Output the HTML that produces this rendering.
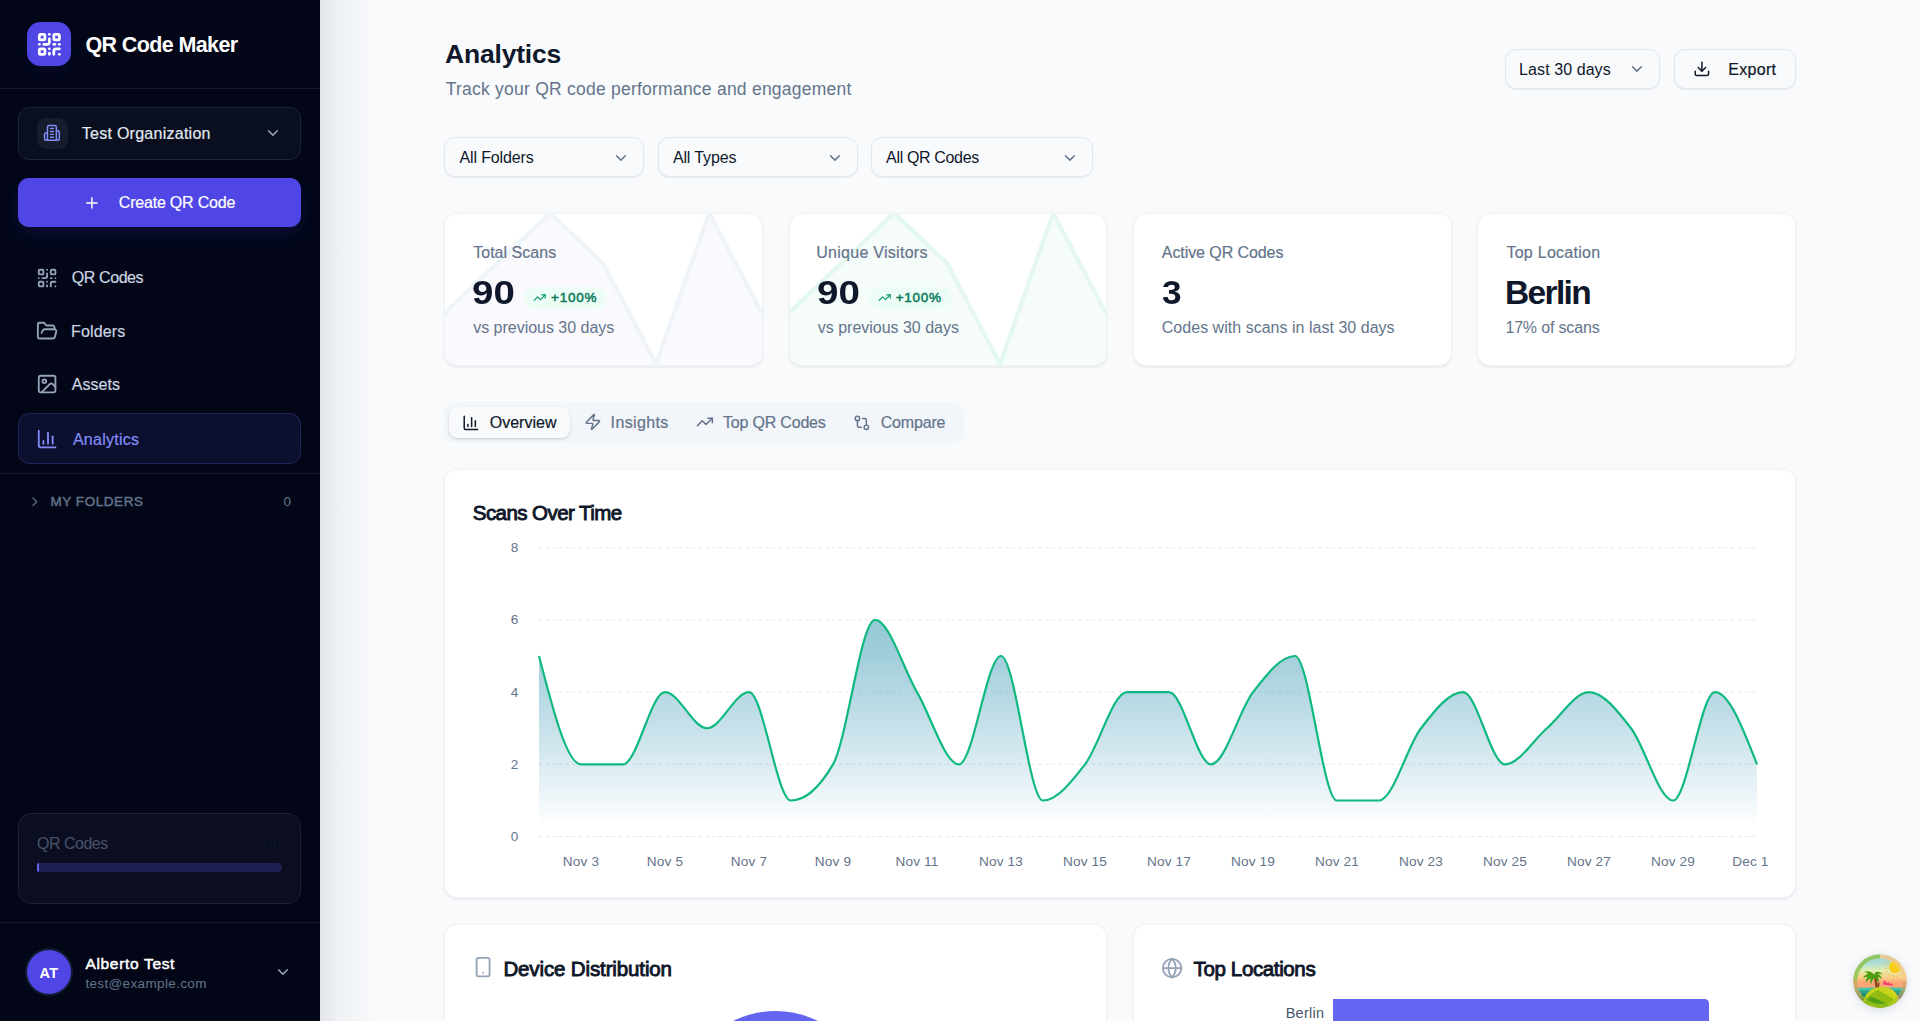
<!DOCTYPE html>
<html lang="en">
<head>
<meta charset="utf-8">
<title>Analytics - QR Code Maker</title>
<style>
*{box-sizing:border-box;margin:0;padding:0}
html,body{width:1920px;height:1021px;overflow:hidden}
body{font-family:"Liberation Sans",Arial,sans-serif;background:#f8fafc;color:#0f172a;position:relative;-webkit-font-smoothing:antialiased}
.abs{position:absolute}
.t{position:absolute;white-space:nowrap;line-height:1}
svg.ic{position:absolute;fill:none;stroke:currentColor;stroke-width:2;stroke-linecap:round;stroke-linejoin:round}
/* sidebar */
#sb{position:absolute;left:0;top:0;width:320px;height:1021px;background:#020617}
#sbshadow{position:absolute;left:320px;top:0;width:62px;height:1021px;background:linear-gradient(90deg,rgba(15,23,42,.085) 0,rgba(15,23,42,.066) 14%,rgba(15,23,42,.04) 30%,rgba(15,23,42,.026) 48%,rgba(15,23,42,.015) 66%,rgba(15,23,42,.007) 85%,rgba(15,23,42,0) 100%)}
.hr{position:absolute;left:0;width:320px;height:1px;background:#141b2d}
/* main */
.card{position:absolute;background:#fff;border:1.3px solid #f2f5f8;border-radius:13.3px;box-shadow:0 0 0 1px rgba(226,232,240,.18),0 1.2px 2px rgba(15,23,42,.055)}
.sel{position:absolute;background:#f8fafc;border:1px solid #e2e8f0;border-radius:11.1px;box-shadow:0 1px 2px rgba(15,23,42,.06)}
</style>
</head>
<body>
<!-- SIDEBAR -->
<div id="sb">
  <div class="abs" id="logo" style="left:27px;top:22px;width:44.4px;height:44.4px;border-radius:13.3px;background:#4f46e5;box-shadow:0 8px 14px rgba(79,70,229,.07)"></div>
  <svg class="ic" viewBox="0 0 24 24" style="left:35.6px;top:30.5px;width:26.7px;height:26.7px;color:#fff;stroke-width:2.5"><rect width="5" height="5" x="3" y="3" rx="1"/><rect width="5" height="5" x="16" y="3" rx="1"/><rect width="5" height="5" x="3" y="16" rx="1"/><path d="M21 16h-3a2 2 0 0 0-2 2v3"/><path d="M21 21v.01"/><path d="M12 7v3a2 2 0 0 1-2 2H7"/><path d="M3 12h.01"/><path d="M12 3h.01"/><path d="M12 16v.01"/><path d="M16 12h1"/><path d="M21 12v.01"/><path d="M12 21v-1"/></svg>
  <div class="t" id="brand" style="left:85.40px;top:35.00px;font-size:21.5px;font-weight:700;color:#fff;letter-spacing:-0.611px">QR Code Maker</div>
  <div class="hr" style="top:88px"></div>

  <div class="abs" id="org" style="left:18px;top:107px;width:283px;height:53px;border-radius:11.1px;background:#0a0f1f;border:1px solid #1c2435"></div>
  <div class="abs" id="orgic" style="left:36.7px;top:117.6px;width:31.1px;height:31.1px;border-radius:8.9px;background:#161c2c"></div>
  <svg class="ic" viewBox="0 0 24 24" style="left:43.4px;top:124.3px;width:17.8px;height:17.8px;color:#818cf8"><path d="M6 22V4a2 2 0 0 1 2-2h8a2 2 0 0 1 2 2v18Z"/><path d="M6 12H4a2 2 0 0 0-2 2v6a2 2 0 0 0 2 2h2"/><path d="M18 9h2a2 2 0 0 1 2 2v9a2 2 0 0 1-2 2h-2"/><path d="M10 6h4"/><path d="M10 10h4"/><path d="M10 14h4"/><path d="M10 18h4"/></svg>
  <div class="t" id="orgname" style="left:81.80px;top:126.21px;font-size:16px;color:#e2e8f0;-webkit-text-stroke:.2px currentColor;letter-spacing:0.262px">Test Organization</div>
  <svg class="ic" viewBox="0 0 24 24" style="left:264.3px;top:124.4px;width:17.8px;height:17.8px;color:#94a3b8"><path d="m6 9 6 6 6-6"/></svg>

  <div class="abs" id="create" style="left:18px;top:178px;width:283px;height:48.9px;border-radius:11.1px;background:#4f46e5;box-shadow:0 8px 18px rgba(79,70,229,.14)"></div>
  <svg class="ic" viewBox="0 0 24 24" style="left:82.8px;top:193.8px;width:17.8px;height:17.8px;color:#fff"><path d="M5 12h14"/><path d="M12 5v14"/></svg>
  <div class="t" id="createtx" style="left:118.80px;top:195.00px;font-size:16px;color:#fff;-webkit-text-stroke:.2px currentColor;letter-spacing:-0.205px">Create QR Code</div>

  <svg class="ic" viewBox="0 0 24 24" style="left:35.6px;top:266.6px;width:22.2px;height:22.2px;color:#94a3b8"><rect width="5" height="5" x="3" y="3" rx="1"/><rect width="5" height="5" x="16" y="3" rx="1"/><rect width="5" height="5" x="3" y="16" rx="1"/><path d="M21 16h-3a2 2 0 0 0-2 2v3"/><path d="M21 21v.01"/><path d="M12 7v3a2 2 0 0 1-2 2H7"/><path d="M3 12h.01"/><path d="M12 3h.01"/><path d="M12 16v.01"/><path d="M16 12h1"/><path d="M21 12v.01"/><path d="M12 21v-1"/></svg>
  <div class="t" id="nav1" style="left:71.80px;top:270.30px;font-size:16px;color:#cbd5e1;-webkit-text-stroke:.2px currentColor;letter-spacing:-0.414px">QR Codes</div>
  <svg class="ic" viewBox="0 0 24 24" style="left:35.6px;top:319.5px;width:22.2px;height:22.2px;color:#94a3b8"><path d="m6 14 1.5-2.9A2 2 0 0 1 9.24 10H20a2 2 0 0 1 1.94 2.5l-1.54 6a2 2 0 0 1-1.95 1.5H4a2 2 0 0 1-2-2V5a2 2 0 0 1 2-2h3.9a2 2 0 0 1 1.69.9l.81 1.2a2 2 0 0 0 1.67.9H18a2 2 0 0 1 2 2v2"/></svg>
  <div class="t" id="nav2" style="left:71.10px;top:323.71px;font-size:16px;color:#cbd5e1;-webkit-text-stroke:.2px currentColor;letter-spacing:0.125px">Folders</div>
  <svg class="ic" viewBox="0 0 24 24" style="left:35.6px;top:373.2px;width:22.2px;height:22.2px;color:#94a3b8"><rect width="18" height="18" x="3" y="3" rx="2" ry="2"/><circle cx="9" cy="9" r="2"/><path d="m21 15-3.086-3.086a2 2 0 0 0-2.828 0L6 21"/></svg>
  <div class="t" id="nav3" style="left:71.80px;top:377.00px;font-size:16px;color:#cbd5e1;-webkit-text-stroke:.2px currentColor;letter-spacing:0.017px">Assets</div>

  <div class="abs" id="navact" style="left:18px;top:413px;width:283px;height:51.1px;border-radius:11.1px;background:#0d0f2f;border:1px solid #22255a"></div>
  <svg class="ic" viewBox="0 0 24 24" style="left:36.4px;top:427.7px;width:22.2px;height:22.2px;color:#818cf8"><path d="M3 3v16a2 2 0 0 0 2 2h16"/><path d="M18 17V9"/><path d="M13 17V5"/><path d="M8 17v-3"/></svg>
  <div class="t" id="nav4" style="left:72.90px;top:431.50px;font-size:16px;color:#818cf8;-webkit-text-stroke:.2px currentColor;letter-spacing:0.272px">Analytics</div>

  <div class="hr" style="top:473px"></div>
  <svg class="ic" viewBox="0 0 24 24" style="left:27px;top:493.5px;width:15.5px;height:15.5px;color:#64748b"><path d="m9 18 6-6-6-6"/></svg>
  <div class="t" id="myf" style="left:50.40px;top:495.21px;font-size:13.5px;color:#64748b;-webkit-text-stroke:.45px currentColor;letter-spacing:0.560px">MY FOLDERS</div>
  <div class="t" id="myf0" style="left:283.40px;top:495.21px;font-size:13.5px;color:#64748b;letter-spacing:0.000px">0</div>

  <div class="abs" id="usage" style="left:18px;top:813px;width:283px;height:91px;border-radius:13.3px;background:#0a0e20;border:1px solid #1b2335"></div>
  <div class="t" id="usel" style="left:37.10px;top:836.21px;font-size:16px;color:#48536a;letter-spacing:-0.514px">QR Codes</div>
  <div class="t" id="user" style="left:230.90px;top:836.21px;font-size:16px;color:#0e1426;letter-spacing:0.278px">3 / 500</div>
  <div class="abs" style="left:36.6px;top:863.3px;width:245.5px;height:8.9px;border-radius:4.5px;background:#1e1e55"></div>
  <div class="abs" style="left:36.6px;top:863.3px;width:2px;height:8.9px;border-radius:4.5px 0 0 4.5px;background:#6366f1"></div>

  <div class="hr" style="top:922px"></div>
  <div class="abs" id="avatar" style="left:26.8px;top:949.8px;width:44.4px;height:44.4px;border-radius:50%;background:#4f46e5;box-shadow:0 0 0 2.2px #111a2e"></div>
  <div class="t" id="avtx" style="left:39.60px;top:965.50px;font-size:14.5px;font-weight:700;color:#fff;letter-spacing:0.205px">AT</div>
  <div class="t" id="uname" style="left:85.40px;top:955.80px;font-size:15.5px;color:#fff;-webkit-text-stroke:.5px currentColor;letter-spacing:0.678px">Alberto Test</div>
  <div class="t" id="umail" style="left:85.40px;top:977.00px;font-size:13.5px;color:#64748b;letter-spacing:0.353px">test@example.com</div>
  <svg class="ic" viewBox="0 0 24 24" style="left:274.3px;top:963.2px;width:17.8px;height:17.8px;color:#94a3b8"><path d="m6 9 6 6 6-6"/></svg>
</div>
<div id="sbshadow"></div>

<!-- HEADER -->
<div class="t" id="h1" style="left:445.00px;top:40.80px;font-size:26.5px;font-weight:700;color:#0f172a;letter-spacing:-0.199px">Analytics</div>
<div class="t" id="sub" style="left:445.70px;top:81.30px;font-size:17.5px;color:#64748b;letter-spacing:0.237px">Track your QR code performance and engagement</div>

<div class="sel" style="left:1504.8px;top:48.65px;width:155.6px;height:40px"></div>
<div class="t" id="l30" style="left:1519.10px;top:61.50px;font-size:16px;color:#0f172a;letter-spacing:0.079px">Last 30 days</div>
<svg class="ic" viewBox="0 0 24 24" style="left:1628.3px;top:60px;width:17.8px;height:17.8px;color:#64748b"><path d="m6 9 6 6 6-6"/></svg>
<div class="sel" style="left:1673.8px;top:48.65px;width:122.2px;height:40px"></div>
<svg class="ic" viewBox="0 0 24 24" style="left:1692.8px;top:59.6px;width:17.8px;height:17.8px;color:#0f172a"><path d="M21 15v4a2 2 0 0 1-2 2H5a2 2 0 0 1-2-2v-4"/><polyline points="7 10 12 15 17 10"/><line x1="12" x2="12" y1="15" y2="3"/></svg>
<div class="t" id="exp" style="left:1728.30px;top:61.50px;font-size:16px;color:#0f172a;-webkit-text-stroke:.2px currentColor;letter-spacing:0.301px">Export</div>

<!-- FILTERS -->
<div class="sel" style="left:444.3px;top:137.4px;width:200px;height:40px"></div>
<div class="t" id="f1" style="left:459.50px;top:150.11px;font-size:16px;letter-spacing:-0.138px">All Folders</div>
<svg class="ic" viewBox="0 0 24 24" style="left:612.1px;top:149px;width:17.8px;height:17.8px;color:#64748b"><path d="m6 9 6 6 6-6"/></svg>
<div class="sel" style="left:657.65px;top:137.4px;width:200px;height:40px"></div>
<div class="t" id="f2" style="left:672.90px;top:150.11px;font-size:16px;letter-spacing:-0.127px">All Types</div>
<svg class="ic" viewBox="0 0 24 24" style="left:825.5px;top:149px;width:17.8px;height:17.8px;color:#64748b"><path d="m6 9 6 6 6-6"/></svg>
<div class="sel" style="left:870.98px;top:137.4px;width:222.2px;height:40px"></div>
<div class="t" id="f3" style="left:886.10px;top:150.11px;font-size:16px;letter-spacing:-0.347px">All QR Codes</div>
<svg class="ic" viewBox="0 0 24 24" style="left:1061.1px;top:149px;width:17.8px;height:17.8px;color:#64748b"><path d="m6 9 6 6 6-6"/></svg>

<!-- STAT CARDS -->
<div class="card" id="c1" style="left:444.3px;top:213.3px;width:318.6px;height:153px;overflow:hidden">
  <svg class="abs" style="left:-1.3px;top:-1.3px" width="318.2" height="153" viewBox="0 0 316.8 152.4" preserveAspectRatio="none"><path d="M0.0,100.3 L52.8,50.2 L105.6,0.1 L158.4,50.2 L211.2,150.4 L264.0,0.1 L316.8,100.3 L316.8,152.7 L0,152.7Z" fill="#f9f9fe"/><path d="M0.0,100.3 L52.8,50.2 L105.6,0.1 L158.4,50.2 L211.2,150.4 L264.0,0.1 L316.8,100.3" fill="none" stroke="#eff4f9" stroke-width="4.2" stroke-linejoin="round"/></svg>
</div>
<div class="t" id="c1l" style="left:473.20px;top:244.61px;font-size:16px;color:#64748b;-webkit-text-stroke:.2px currentColor;letter-spacing:0.029px">Total Scans</div>
<div class="t" id="c1v" style="left:472.05px;top:276.21px;font-size:33.5px;font-weight:700;color:#0f172a;letter-spacing:0.000px;transform:scaleX(1.1479);transform-origin:0 0">90</div>
<div class="abs" style="left:524px;top:287px;width:82px;height:21.6px;border-radius:11px;background:#ecfdf5"></div>
<svg class="ic" viewBox="0 0 24 24" style="left:533.1px;top:291.3px;width:13.3px;height:13.3px;color:#059669"><polyline points="22 7 13.5 15.5 8.5 10.5 2 17"/><polyline points="16 7 22 7 22 13"/></svg>
<div class="t" id="c1b" style="left:551.10px;top:291.41px;font-size:13.5px;color:#047857;-webkit-text-stroke:.45px currentColor;letter-spacing:0.723px">+100%</div>
<div class="t" id="c1s" style="left:473.20px;top:319.91px;font-size:16px;color:#64748b;letter-spacing:-0.017px">vs previous 30 days</div>

<div class="card" id="c2" style="left:788.7px;top:213.3px;width:318.6px;height:153px;overflow:hidden">
  <svg class="abs" style="left:-1.3px;top:-1.3px" width="318.2" height="153" viewBox="0 0 316.8 152.4" preserveAspectRatio="none"><path d="M0.0,100.3 L52.8,50.2 L105.6,0.1 L158.4,50.2 L211.2,150.4 L264.0,0.1 L316.8,100.3 L316.8,152.7 L0,152.7Z" fill="#f5fcfa"/><path d="M0.0,100.3 L52.8,50.2 L105.6,0.1 L158.4,50.2 L211.2,150.4 L264.0,0.1 L316.8,100.3" fill="none" stroke="#e4f7f0" stroke-width="4.2" stroke-linejoin="round"/></svg>
</div>
<div class="t" id="c2l" style="left:816.30px;top:244.61px;font-size:16px;color:#64748b;-webkit-text-stroke:.2px currentColor;letter-spacing:0.271px">Unique Visitors</div>
<div class="t" id="c2v" style="left:816.55px;top:276.21px;font-size:33.5px;font-weight:700;color:#0f172a;letter-spacing:0.000px;transform:scaleX(1.1507);transform-origin:0 0">90</div>
<div class="abs" style="left:868.7px;top:287px;width:82px;height:21.6px;border-radius:11px;background:#ecfdf5"></div>
<svg class="ic" viewBox="0 0 24 24" style="left:877.8px;top:291.3px;width:13.3px;height:13.3px;color:#059669"><polyline points="22 7 13.5 15.5 8.5 10.5 2 17"/><polyline points="16 7 22 7 22 13"/></svg>
<div class="t" id="c2b" style="left:895.70px;top:291.41px;font-size:13.5px;color:#047857;-webkit-text-stroke:.45px currentColor;letter-spacing:0.723px">+100%</div>
<div class="t" id="c2s" style="left:817.80px;top:319.91px;font-size:16px;color:#64748b;letter-spacing:-0.017px">vs previous 30 days</div>

<div class="card" id="c3" style="left:1133.0px;top:213.3px;width:318.6px;height:153px"></div>
<div class="t" id="c3l" style="left:1161.80px;top:244.61px;font-size:16px;color:#64748b;-webkit-text-stroke:.2px currentColor;letter-spacing:-0.079px">Active QR Codes</div>
<div class="t" id="c3v" style="left:1162.30px;top:276.21px;font-size:33.5px;font-weight:700;color:#0f172a;letter-spacing:0.000px;transform:scaleX(1.0500);transform-origin:0 0">3</div>
<div class="t" id="c3s" style="left:1161.80px;top:319.91px;font-size:16px;color:#64748b;letter-spacing:0.022px">Codes with scans in last 30 days</div>

<div class="card" id="c4" style="left:1477.4px;top:213.3px;width:318.6px;height:153px"></div>
<div class="t" id="c4l" style="left:1506.40px;top:244.61px;font-size:16px;color:#64748b;-webkit-text-stroke:.2px currentColor;letter-spacing:0.269px">Top Location</div>
<div class="t" id="c4v" style="left:1504.90px;top:276.21px;font-size:33.5px;font-weight:700;color:#0f172a;letter-spacing:-1.615px">Berlin</div>
<div class="t" id="c4s" style="left:1505.40px;top:319.91px;font-size:16px;color:#64748b;letter-spacing:-0.160px">17% of scans</div>

<!-- TABS -->
<div class="abs" id="tabs" style="left:444.3px;top:402.2px;width:520.2px;height:40.6px;border-radius:11.1px;background:#f2f5f9"></div>
<div class="abs" id="tabact" style="left:449.4px;top:406.5px;width:121px;height:31.1px;border-radius:8.9px;background:#f8fafc;box-shadow:0 1px 3px rgba(15,23,42,.12),0 1px 2px rgba(15,23,42,.06)"></div>
<svg class="ic" viewBox="0 0 24 24" style="left:462px;top:413.7px;width:17.8px;height:17.8px;color:#0f172a"><path d="M3 3v16a2 2 0 0 0 2 2h16"/><path d="M18 17V9"/><path d="M13 17V5"/><path d="M8 17v-3"/></svg>
<div class="t" id="tb1" style="left:489.70px;top:414.61px;font-size:16px;color:#0f172a;-webkit-text-stroke:.2px currentColor;letter-spacing:0.025px">Overview</div>
<svg class="ic" viewBox="0 0 24 24" style="left:583.6px;top:413.0px;width:17.8px;height:17.8px;color:#64748b"><path d="M4 14a1 1 0 0 1-.78-1.63l9.9-10.2a.5.5 0 0 1 .86.46l-1.92 6.02A1 1 0 0 0 13 10h7a1 1 0 0 1 .78 1.63l-9.9 10.2a.5.5 0 0 1-.86-.46l1.92-6.02A1 1 0 0 0 11 14z"/></svg>
<div class="t" id="tb2" style="left:610.60px;top:414.61px;font-size:16px;color:#64748b;-webkit-text-stroke:.2px currentColor;letter-spacing:0.366px">Insights</div>
<svg class="ic" viewBox="0 0 24 24" style="left:695.9px;top:412.9px;width:17.8px;height:17.8px;color:#64748b"><polyline points="22 7 13.5 15.5 8.5 10.5 2 17"/><polyline points="16 7 22 7 22 13"/></svg>
<div class="t" id="tb3" style="left:723.00px;top:414.61px;font-size:16px;color:#64748b;-webkit-text-stroke:.2px currentColor;letter-spacing:-0.194px">Top QR Codes</div>
<svg class="ic" viewBox="0 0 24 24" style="left:852.7px;top:413.5px;width:17.8px;height:17.8px;color:#64748b"><circle cx="18" cy="18" r="3"/><circle cx="6" cy="6" r="3"/><path d="M13 6h3a2 2 0 0 1 2 2v7"/><path d="M11 18H8a2 2 0 0 1-2-2V9"/></svg>
<div class="t" id="tb4" style="left:880.70px;top:414.61px;font-size:16px;color:#64748b;-webkit-text-stroke:.2px currentColor;letter-spacing:-0.168px">Compare</div>

<!-- CHART CARD -->
<div class="card" id="cc" style="left:444.3px;top:469px;width:1351.3px;height:428.7px"></div>
<div class="t" id="cct" style="left:472.80px;top:502.71px;font-size:20.5px;color:#0f172a;-webkit-text-stroke:.9px currentColor;letter-spacing:-0.563px">Scans Over Time</div>
<svg class="abs" id="chart" style="left:0;top:0" width="1920" height="1021" viewBox="0 0 1920 1021">
  <defs>
    <linearGradient id="ga" x1="0" y1="0" x2="0" y2="1"><stop offset=".05" stop-color="#6366f1" stop-opacity=".3"/><stop offset=".95" stop-color="#6366f1" stop-opacity="0"/></linearGradient>
    <linearGradient id="gb" x1="0" y1="0" x2="0" y2="1"><stop offset=".05" stop-color="#10b981" stop-opacity=".3"/><stop offset=".95" stop-color="#10b981" stop-opacity="0"/></linearGradient>
  </defs>
  <g stroke="#e2e8f0" stroke-width="1" stroke-dasharray="3.33 3.33" fill="none">
    <path d="M539 547.64H1757M539 619.88H1757M539 692.12H1757M539 764.36H1757M539 836.60H1757"/>
  </g>
  <path id="area1" fill="url(#ga)" d="M539,656C553,710.18,567,764.36,581,764.36C595,764.36,609,764.36,623,764.36C637,764.36,651,692.12,665,692.12C679,692.12,693,728.24,707,728.24C721,728.24,735,692.12,749,692.12C763,692.12,777,800.48,791,800.48C805,800.48,819,788.44,833,764.36C847,740.28,861,619.88,875,619.88C889,619.88,903,668.04,917,692.12C931,716.2,945,764.36,959,764.36C973,764.36,987,656,1001,656C1015,656,1029,800.48,1043,800.48C1057,800.48,1071,782.42,1085,764.36C1099,746.3,1113,692.12,1127,692.12C1141,692.12,1155,692.12,1169,692.12C1183,692.12,1197,764.36,1211,764.36C1225,764.36,1239,710.18,1253,692.12C1267,674.06,1281,656,1295,656C1309,656,1323,800.48,1337,800.48C1351,800.48,1365,800.48,1379,800.48C1393,800.48,1407,746.3,1421,728.24C1435,710.18,1449,692.12,1463,692.12C1477,692.12,1491,764.36,1505,764.36C1519,764.36,1533,740.28,1547,728.24C1561,716.2,1575,692.12,1589,692.12C1603,692.12,1617,710.18,1631,728.24C1645,746.3,1659,800.48,1673,800.48C1687,800.48,1701,692.12,1715,692.12C1729,692.12,1743,728.24,1757,764.36L1757,836.6L539,836.6Z"/>
  <path id="area2" fill="url(#gb)" d="M539,656C553,710.18,567,764.36,581,764.36C595,764.36,609,764.36,623,764.36C637,764.36,651,692.12,665,692.12C679,692.12,693,728.24,707,728.24C721,728.24,735,692.12,749,692.12C763,692.12,777,800.48,791,800.48C805,800.48,819,788.44,833,764.36C847,740.28,861,619.88,875,619.88C889,619.88,903,668.04,917,692.12C931,716.2,945,764.36,959,764.36C973,764.36,987,656,1001,656C1015,656,1029,800.48,1043,800.48C1057,800.48,1071,782.42,1085,764.36C1099,746.3,1113,692.12,1127,692.12C1141,692.12,1155,692.12,1169,692.12C1183,692.12,1197,764.36,1211,764.36C1225,764.36,1239,710.18,1253,692.12C1267,674.06,1281,656,1295,656C1309,656,1323,800.48,1337,800.48C1351,800.48,1365,800.48,1379,800.48C1393,800.48,1407,746.3,1421,728.24C1435,710.18,1449,692.12,1463,692.12C1477,692.12,1491,764.36,1505,764.36C1519,764.36,1533,740.28,1547,728.24C1561,716.2,1575,692.12,1589,692.12C1603,692.12,1617,710.18,1631,728.24C1645,746.3,1659,800.48,1673,800.48C1687,800.48,1701,692.12,1715,692.12C1729,692.12,1743,728.24,1757,764.36L1757,836.6L539,836.6Z"/>
  <path id="line" fill="none" stroke="#10b981" stroke-width="2.2" d="M539,656C553,710.18,567,764.36,581,764.36C595,764.36,609,764.36,623,764.36C637,764.36,651,692.12,665,692.12C679,692.12,693,728.24,707,728.24C721,728.24,735,692.12,749,692.12C763,692.12,777,800.48,791,800.48C805,800.48,819,788.44,833,764.36C847,740.28,861,619.88,875,619.88C889,619.88,903,668.04,917,692.12C931,716.2,945,764.36,959,764.36C973,764.36,987,656,1001,656C1015,656,1029,800.48,1043,800.48C1057,800.48,1071,782.42,1085,764.36C1099,746.3,1113,692.12,1127,692.12C1141,692.12,1155,692.12,1169,692.12C1183,692.12,1197,764.36,1211,764.36C1225,764.36,1239,710.18,1253,692.12C1267,674.06,1281,656,1295,656C1309,656,1323,800.48,1337,800.48C1351,800.48,1365,800.48,1379,800.48C1393,800.48,1407,746.3,1421,728.24C1435,710.18,1449,692.12,1463,692.12C1477,692.12,1491,764.36,1505,764.36C1519,764.36,1533,740.28,1547,728.24C1561,716.2,1575,692.12,1589,692.12C1603,692.12,1617,710.18,1631,728.24C1645,746.3,1659,800.48,1673,800.48C1687,800.48,1701,692.12,1715,692.12C1729,692.12,1743,728.24,1757,764.36"/>
  <g font-family="Liberation Sans, Arial, sans-serif" font-size="13.6" fill="#64748b" text-anchor="end">
    <text x="518.3" y="552.1">8</text><text x="518.3" y="624.4">6</text><text x="518.3" y="696.6">4</text><text x="518.3" y="768.9">2</text><text x="518.3" y="841.1">0</text>
  </g>
  <g font-family="Liberation Sans, Arial, sans-serif" font-size="13.6" fill="#64748b" text-anchor="middle" letter-spacing=".15">
    <text x="581" y="866.1">Nov 3</text><text x="665" y="866.1">Nov 5</text><text x="749" y="866.1">Nov 7</text><text x="833" y="866.1">Nov 9</text><text x="917" y="866.1">Nov 11</text><text x="1001" y="866.1">Nov 13</text><text x="1085" y="866.1">Nov 15</text><text x="1169" y="866.1">Nov 17</text><text x="1253" y="866.1">Nov 19</text><text x="1337" y="866.1">Nov 21</text><text x="1421" y="866.1">Nov 23</text><text x="1505" y="866.1">Nov 25</text><text x="1589" y="866.1">Nov 27</text><text x="1673" y="866.1">Nov 29</text><text x="1750.4" y="866.1">Dec 1</text>
  </g>
</svg>

<!-- BOTTOM CARDS -->
<div class="card" id="b1" style="left:444.3px;top:924.2px;width:663.05px;height:140px"></div>
<svg class="ic" viewBox="0 0 24 24" style="left:472px;top:956.3px;width:22.2px;height:22.2px;color:#94a3b8"><rect width="14" height="20" x="5" y="2" rx="2" ry="2"/><path d="M12 18h.01"/></svg>
<div class="t" id="b1t" style="left:503.40px;top:958.50px;font-size:20.5px;color:#0f172a;-webkit-text-stroke:.9px currentColor;letter-spacing:-0.128px">Device Distribution</div>
<div class="abs" id="pie" style="left:680.6px;top:1011.35px;width:189px;height:189px;border-radius:50%;background:#6366f1"></div>

<div class="card" id="b2" style="left:1132.55px;top:924.2px;width:663.05px;height:140px"></div>
<svg class="ic" viewBox="0 0 24 24" style="left:1161px;top:956.5px;width:22.2px;height:22.2px;color:#94a3b8"><circle cx="12" cy="12" r="10"/><path d="M12 2a14.5 14.5 0 0 0 0 20 14.5 14.5 0 0 0 0-20"/><path d="M2 12h20"/></svg>
<div class="t" id="b2t" style="left:1193.60px;top:958.50px;font-size:20.5px;color:#0f172a;-webkit-text-stroke:.9px currentColor;letter-spacing:-0.371px">Top Locations</div>
<div class="t" id="brl" style="left:1285.70px;top:1006.11px;font-size:14.5px;color:#475569;letter-spacing:0.239px">Berlin</div>
<div class="abs" id="bar" style="left:1333.1px;top:998.8px;width:375.7px;height:40px;border-radius:0 4.4px 0 0;background:#6366f1"></div>

<!-- floating devtools badge -->
<svg class="abs" id="badge" style="left:1853.2px;top:954.2px;filter:drop-shadow(0 2px 4px rgba(15,23,42,.13))" width="54" height="54" viewBox="0 0 54 54">
  <defs>
    <clipPath id="bc"><circle cx="27" cy="27" r="26.6"/></clipPath>
    <linearGradient id="sky" x1="0" y1="0" x2="0" y2="1">
      <stop offset="0" stop-color="#9fd9cf"/><stop offset=".16" stop-color="#a9dcd6"/><stop offset=".3" stop-color="#dff0b4"/><stop offset=".42" stop-color="#f8d58a"/><stop offset=".52" stop-color="#fba877"/><stop offset=".66" stop-color="#fba173"/>
    </linearGradient>
  </defs>
  <g clip-path="url(#bc)">
    <rect width="54" height="54" fill="url(#sky)"/>
    <circle cx="42" cy="13" r="6.2" fill="#f9cd1c"/>
    <circle cx="42" cy="13" r="9.3" fill="none" stroke="#f7b54f" stroke-width="1.6" stroke-dasharray="1.2 1.8" opacity=".85"/>
    <circle cx="42" cy="13" r="12.6" fill="none" stroke="#f9c777" stroke-width="1.4" stroke-dasharray="1 2.4" opacity=".7"/>
    <rect x="0" y="33.6" width="54" height="3" fill="#3fc3a1"/>
    <rect x="0" y="36.4" width="54" height="3.2" fill="#21a58d"/>
    <rect x="0" y="39.4" width="54" height="4" fill="#17877a"/>
    <rect x="0" y="43.2" width="54" height="11" fill="#2b3a8a"/>
    <path d="M30 30.5l1.2-4.6 3 3.4 1.6-1.2 1.3 2 1.7-.9 1.4 2.6z" fill="#ef3f6f"/>
    <path d="M22.3 33.5l-1.6-12.6 2.4-.4 2.2 13.2z" fill="#8a4a1c"/>
    <path d="M24.3 33.6l1.1-5 1.3.4-.8 4.8z" fill="#8a4a1c"/>
    <path d="M21.5 21.5c-2.2-3.6-6.4-5-10.6-3.6 2.2.2 3.4 1 4.2 2-2.4.3-4.3 1.8-5.1 4.2 1.6-1 3.2-1.3 4.6-1-1.5 1.6-2 3.8-1.3 6.2.8-2.3 2.3-3.8 4.3-4.7-.6 2-.3 4 .8 5.8.2-2.6 1.2-4.8 3.1-6.4 2 1 3.4 2.7 4 5 .8-2.2.5-4.300-.7-6 1.800.2 3.300 1 4.400 2.400-.3-2.500-1.800-4.300-4.100-5.200 1.600-.600 3.200-.500 4.600.300-1.400-2.200-3.700-3.100-6.300-2.600-1 .2-2.300 1.200-1.900 3.600z" fill="#4b9f12"/>
    <ellipse cx="28.6" cy="50" rx="18.5" ry="17" fill="#c5d417"/>
    <path d="M33 33.300a18.500 17 0 0 1 11.500 9.500L36 36z" fill="#f7cf1f"/>
    <path d="M12 44.500l12.500-9 16 9.500-3 6-22 2z" fill="#8fbb13" opacity=".95"/>
    <path d="M10.500 49l7.500-6.500 18 8-4 4.500h-20z" fill="#4f9f14"/>
    <path d="M9 54l4-5 22 4.500-2 2z" fill="#7fb414"/>
  </g>
  <g fill="none" stroke-width="4">
    <path d="M2.300 27a24.700 24.700 0 0 1 24.700-24.700" stroke="#8cc04a" stroke-opacity=".8"/>
    <path d="M27 2.300a24.700 24.700 0 0 1 24.700 24.700" stroke="#f7c888" stroke-opacity=".75"/>
    <path d="M51.700 27a24.700 24.700 0 0 1-8 18.200" stroke="#c9a765" stroke-opacity=".6"/>
    <path d="M43.700 45.200a24.700 24.700 0 0 1-36.200-3" stroke="#a4c81e" stroke-opacity=".7"/>
    <path d="M7.500 42.200a24.700 24.700 0 0 1-5.200-15.200" stroke="#c4aa62" stroke-opacity=".8"/>
  </g>
</svg>
</body>
</html>
